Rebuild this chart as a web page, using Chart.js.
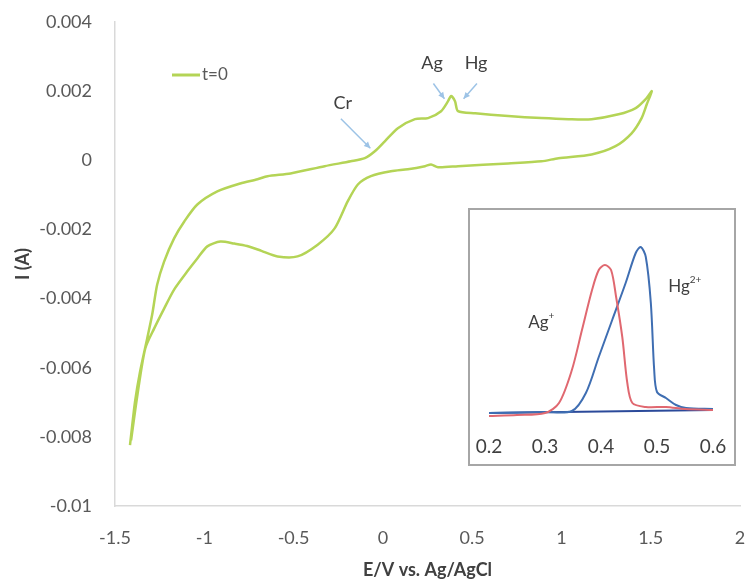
<!DOCTYPE html>
<html>
<head>
<meta charset="utf-8">
<script src="https://cdn.jsdelivr.net/npm/chart.js@4.4.1/dist/chart.umd.min.js"></script>
<style>
  html, body { margin: 0; padding: 0; background: #fff; }
  #wrap { position: relative; width: 745px; height: 581px; }
  #main { position: absolute; left: 0; top: 0; }
  #insetBox { position: absolute; left: 468px; top: 208px; width: 268px; height: 258px;
              box-sizing: border-box; border: 2px solid #a6a6a6; background: #fff; }
  #inset { position: absolute; left: 0; top: 0; }
</style>
</head>
<body>
<div id="wrap">
  <canvas id="main" width="745" height="581"></canvas>
  <div id="insetBox"><canvas id="inset" width="264" height="254"></canvas></div>
</div>
<script>
// Cyclic voltammogram, t=0 (one closed loop: forward branch then return branch)
const cvE = [
  -1.416, -1.388, -1.360, -1.320, -1.292, -1.264, -1.225, -1.169, -1.112, -1.039,
  -0.927, -0.798, -0.702, -0.646, -0.517, -0.326, -0.180, -0.101, -0.045, 0.011,
  0.084, 0.180, 0.253, 0.326, 0.365, 0.382, 0.404, 0.421, 0.517, 0.702,
  0.888, 1.039, 1.169, 1.320, 1.416, 1.472, 1.506,
  1.478, 1.449, 1.393, 1.303, 1.169, 0.983, 0.888, 0.702, 0.421,
  0.309, 0.270, 0.236, 0.140, 0.045, -0.067, -0.140, -0.197, -0.270, -0.365,
  -0.478, -0.590, -0.680, -0.760, -0.831, -0.910, -0.983, -1.039, -1.096, -1.169,
  -1.225, -1.281, -1.331, -1.376, -1.410
];
const cvI = [
  -0.00824, -0.00699, -0.00612, -0.00516, -0.00447, -0.00360, -0.00293, -0.00226, -0.00177, -0.00128,
  -0.00090, -0.00067, -0.00055, -0.00046, -0.00038, -0.00017, -0.00003, 0.00006, 0.00026, 0.00055,
  0.00093, 0.00119, 0.00122, 0.00142, 0.00171, 0.00186, 0.00171, 0.00142, 0.00136, 0.00128,
  0.00122, 0.00119, 0.00119, 0.00133, 0.00151, 0.00177, 0.00200,
  0.00162, 0.00122, 0.00078, 0.00041, 0.00017, 0.00006, -0.00003, -0.00009, -0.00017,
  -0.00020, -0.00012, -0.00017, -0.00026, -0.00032, -0.00046, -0.00070, -0.00119, -0.00197, -0.00244,
  -0.00278, -0.00278, -0.00262, -0.00248, -0.00241, -0.00235, -0.00249, -0.00284, -0.00322, -0.00374,
  -0.00429, -0.00487, -0.00545, -0.00684, -0.00810
];

// Inset: stripping peaks (arbitrary current units)
const agE = [0.2, 0.25, 0.3, 0.325, 0.348, 0.366, 0.384, 0.396, 0.407, 0.418, 0.427, 0.438, 0.447, 0.456, 0.48, 0.516, 0.55, 0.6];
const agI = [-1, 0, 2, 12, 45, 85, 125, 145, 150, 145, 118, 78, 32, 12, 8, 8, 6, 5];
const hgE = [0.2, 0.3, 0.348, 0.373, 0.396, 0.42, 0.444, 0.462, 0.471, 0.48, 0.489, 0.495, 0.5, 0.516, 0.534, 0.552, 0.6];
const hgI = [2, 3, 4, 22, 58, 95, 132, 162, 168, 158, 112, 45, 23, 17, 10, 7, 6];
const baseE = [0.2, 0.6];
const baseI = [2, 5];

const xTicks = [-1.5, -1, -0.5, 0, 0.5, 1, 1.5, 2];
const yTicks = [0.004, 0.002, 0, -0.002, -0.004, -0.006, -0.008, -0.01];
const insetTicks = [0.2, 0.3, 0.4, 0.5, 0.6];

const FONT = 'Lato';
const GREEN = '#b4d456';

function pts(xs, ys) {
    return xs.map((x, i) => ({ x: x, y: ys[i] }));
}

// annotation callouts in data units
const callouts = [
    { text: 'Cr', at: [-0.225, 0.00165], from: [-0.235, 0.00120], to: [-0.07, 0.00035] },
    { text: 'Ag', at: [0.275, 0.00282], from: [0.283, 0.00222], to: [0.345, 0.00178] },
    { text: 'Hg', at: [0.522, 0.00282], from: [0.527, 0.00222], to: [0.452, 0.00178] }
];

function arrow(ctx, x1, y1, x2, y2) {
    const a = Math.atan2(y2 - y1, x2 - x1);
    ctx.beginPath();
    ctx.moveTo(x1, y1);
    ctx.lineTo(x2, y2);
    ctx.stroke();
    ctx.beginPath();
    ctx.moveTo(x2, y2);
    ctx.lineTo(x2 - 7 * Math.cos(a - 0.45), y2 - 7 * Math.sin(a - 0.45));
    ctx.lineTo(x2 - 7 * Math.cos(a + 0.45), y2 - 7 * Math.sin(a + 0.45));
    ctx.closePath();
    ctx.fill();
}

const mainExtras = {
    id: 'mainExtras',
    afterDatasetsDraw(chart) {
        const ctx = chart.ctx;
        const sx = chart.scales.x, sy = chart.scales.y;
        ctx.save();
        ctx.font = '18px ' + FONT;
        ctx.textAlign = 'center';
        ctx.textBaseline = 'middle';
        callouts.forEach(c => {
            ctx.fillStyle = '#404040';
            ctx.fillText(c.text, sx.getPixelForValue(c.at[0]), sy.getPixelForValue(c.at[1]));
            ctx.strokeStyle = '#9dc3e6';
            ctx.fillStyle = '#9dc3e6';
            ctx.lineWidth = 1.5;
            arrow(ctx, sx.getPixelForValue(c.from[0]), sy.getPixelForValue(c.from[1]),
                sx.getPixelForValue(c.to[0]), sy.getPixelForValue(c.to[1]));
        });
        // legend
        const ds = chart.data.datasets[0];
        ctx.strokeStyle = ds.borderColor;
        ctx.lineWidth = 3;
        ctx.beginPath();
        ctx.moveTo(172, 75);
        ctx.lineTo(200, 75);
        ctx.stroke();
        ctx.fillStyle = '#595959';
        ctx.font = '17px ' + FONT;
        ctx.textAlign = 'left';
        ctx.fillText(ds.label, 202, 75);
        ctx.restore();
    }
};

new Chart(document.getElementById('main').getContext('2d'), {
    type: 'scatter',
    data: {
        datasets: [{
            label: 't=0',
            data: pts(cvE, cvI),
            showLine: true,
            borderColor: GREEN,
            borderWidth: 2.5,
            pointRadius: 0,
            tension: 0.25
        }]
    },
    options: {
        responsive: false,
        animation: false,
        layout: { padding: { top: 22, right: 5, left: 0, bottom: 0 } },
        plugins: { legend: { display: false }, tooltip: { enabled: false } },
        scales: {
            x: {
                type: 'linear', min: -1.5, max: 2,
                afterBuildTicks: (s) => { s.ticks = xTicks.map(v => ({ value: v })); },
                afterFit: (s) => { s.height = 75; s.paddingLeft = 0; s.paddingRight = 0; },
                grid: { display: false, drawTicks: false },
                border: { display: true, color: '#d9d9d9', width: 1.5 },
                ticks: { color: '#595959', padding: 21, font: { family: FONT, size: 18 }, callback: v => String(v) },
                title: { display: true, text: 'E/V vs. Ag/AgCl', color: '#404040', padding: 0,
                         font: { family: FONT, size: 18, weight: 'bold' } }
            },
            y: {
                type: 'linear', min: -0.01, max: 0.004,
                afterBuildTicks: (s) => { s.ticks = yTicks.map(v => ({ value: v })); },
                afterFit: (s) => { s.width = 115; s.paddingTop = 0; s.paddingBottom = 0; },
                grid: { display: false, drawTicks: false },
                border: { display: true, color: '#d9d9d9', width: 1.5 },
                ticks: { color: '#595959', padding: 23, font: { family: FONT, size: 18 },
                         callback: v => String(Number(v.toFixed(4))) },
                title: { display: true, text: 'I (A)', color: '#404040', padding: { top: 12 },
                         font: { family: FONT, size: 18, weight: 'bold' } }
            }
        }
    },
    plugins: [mainExtras]
});

const insetExtras = {
    id: 'insetExtras',
    afterDatasetsDraw(chart) {
        const ctx = chart.ctx;
        const sx = chart.scales.x, sy = chart.scales.y;
        ctx.save();
        ctx.fillStyle = '#404040';
        ctx.textBaseline = 'middle';
        ctx.textAlign = 'left';
        const lab = (base, sup, x, y) => {
            const px = sx.getPixelForValue(x), py = sy.getPixelForValue(y);
            ctx.font = '17px ' + FONT;
            const w = ctx.measureText(base).width;
            ctx.fillText(base, px, py);
            ctx.font = '10px ' + FONT;
            ctx.fillText(sup, px + w, py - 7);
        };
        lab('Ag', '+', 0.270, 92);
        lab('Hg', '2+', 0.520, 128);
        ctx.restore();
    }
};

new Chart(document.getElementById('inset').getContext('2d'), {
    type: 'scatter',
    data: {
        datasets: [
            { label: 'Ag+', data: pts(agE, agI), showLine: true, borderColor: '#e06870', borderWidth: 2, pointRadius: 0, tension: 0.3 },
            { label: 'Hg2+', data: pts(hgE, hgI), showLine: true, borderColor: '#3f6eb2', borderWidth: 2, pointRadius: 0, tension: 0.3 },
            { label: 'base', data: pts(baseE, baseI), showLine: true, borderColor: '#2b4a9a', borderWidth: 2, pointRadius: 0 }
        ]
    },
    options: {
        responsive: false,
        animation: false,
        layout: { padding: { top: 8, right: 21, left: 19, bottom: 0 } },
        plugins: { legend: { display: false }, tooltip: { enabled: false } },
        scales: {
            x: {
                type: 'linear', min: 0.2, max: 0.6,
                afterBuildTicks: (s) => { s.ticks = insetTicks.map(v => ({ value: v })); },
                afterFit: (s) => { s.height = 34; s.paddingLeft = 0; s.paddingRight = 0; },
                grid: { display: false, drawTicks: false },
                border: { display: false },
                ticks: { color: '#404040', padding: 5, font: { family: FONT, size: 19 }, callback: v => v.toFixed(1) }
            },
            y: { display: false, min: -15, max: 197 }
        }
    },
    plugins: [insetExtras]
});
</script>
</body>
</html>
